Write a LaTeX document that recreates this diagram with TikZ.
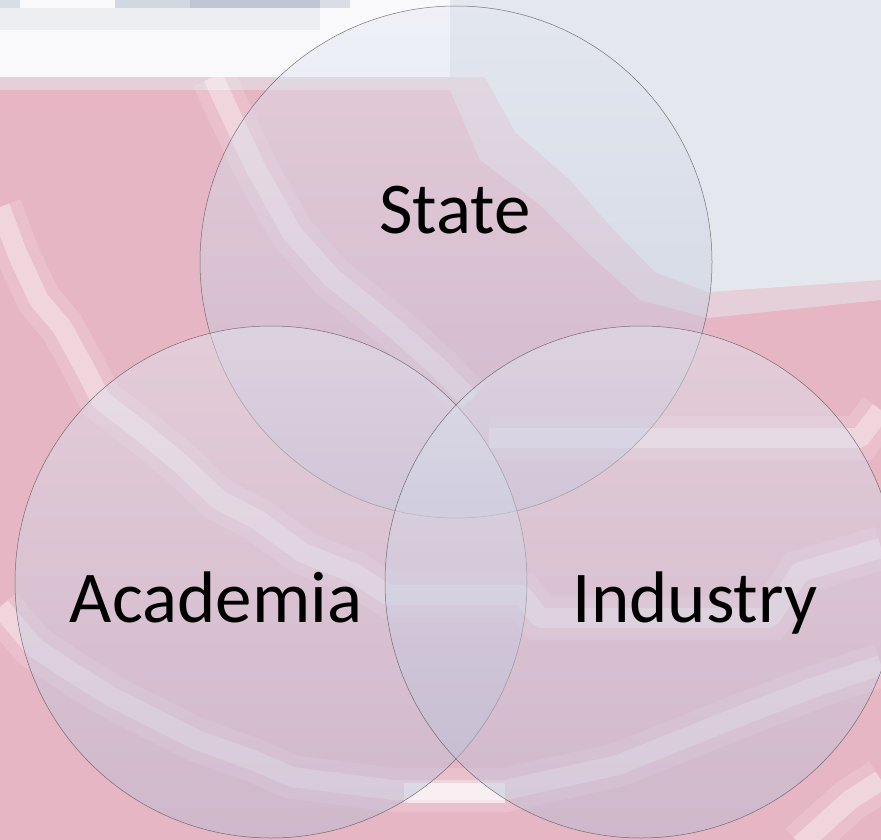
\documentclass[tikz,border=0pt]{standalone}
\usepackage{fontspec}
\setmainfont{Carlito}
\usetikzlibrary{positioning}
\definecolor{bgpink}{RGB}{230,182,196}
\definecolor{skylight}{RGB}{228,231,237}
\definecolor{topwhite}{RGB}{249,249,251}
\definecolor{topgrey}{RGB}{192,198,212}
\definecolor{venntop}{RGB}{226,232,242}
\definecolor{vennbot}{RGB}{182,188,214}

\begin{document}
\begin{tikzpicture}[x=1pt,y=-1pt,
        venn/.style={circle,minimum size=512pt,inner sep=0pt,draw=black!65,line width=0.5pt,draw opacity=0.8,
            shade,top color=venntop,bottom color=vennbot,fill opacity=0.45},
        tag/.style={font=\fontsize{73}{80}\selectfont,anchor=base,inner sep=0pt},
        glint/.style={draw=white,draw opacity=0.35,line width=20pt,line join=bevel,
            preaction={draw=white,draw opacity=0.15,line width=44pt}}]
    \useasboundingbox (0,0) rectangle (881,840);
    \begin{scope}
        \clip (0,0) rectangle (881,840);
        % background picture
        \fill[bgpink] (0,0) rectangle (881,840);
        \fill[skylight!50!bgpink] (0,0) -- (881,0) -- (881,300) -- (708,318) -- (640,300) -- (590,255)
            -- (540,205) -- (480,160) -- (450,90) -- (0,90) -- cycle;
        \fill[skylight] (0,0) -- (881,0) -- (881,280) -- (708,292) -- (655,272) -- (612,228)
            -- (570,180) -- (515,132) -- (485,77) -- (0,77) -- cycle;
        \fill[topwhite] (0,0) rectangle (450,77);
        \fill[topgrey!60] (0,0) rectangle (20,8);
        \fill[topgrey!70] (115,0) rectangle (190,8);
        \fill[topgrey] (190,0) rectangle (320,8);
        \fill[topgrey!60] (320,0) rectangle (350,8);
        \fill[topgrey!30] (0,8) rectangle (320,30);
        \draw[glint] (213,77) -- (255,167) -- (292,233) -- (331,277) -- (393,327) -- (438,367) -- (470,400);
        \draw[glint] (0,207) -- (17,253) -- (39,300) -- (62,327) -- (84,367) -- (101,400) -- (140,430)
            -- (180,463) -- (219,500) -- (258,520) -- (303,553) -- (354,573) -- (388,595) -- (522,595)
            -- (540,618) -- (770,618) -- (800,572) -- (881,548);
        \draw[glint] (0,607) -- (34,647) -- (73,673) -- (112,697) -- (157,720) -- (197,740) -- (253,760)
            -- (292,777) -- (393,790) -- (505,790) -- (618,765) -- (730,720) -- (815,687) -- (881,665);
        \draw[glint] (489,438) -- (860,438) -- (881,410);
        \draw[glint] (800,845) -- (850,800) -- (881,780);
        \fill[white,opacity=0.6] (404,783) rectangle (505,803);
    \end{scope}
    % the three circles
    \node[venn] (state) at (456,262) {};
    \node[venn] (academia) at (271,582) {};
    \node[venn] (industry) at (641,582) {};
    \node[tag] (statetxt) at (455,233) {State};
    \node[tag] (academiatxt) at (216,622) {Academia};
    \node[tag] (industrytxt) at (695,622) {Industry};
\end{tikzpicture}
\end{document}
